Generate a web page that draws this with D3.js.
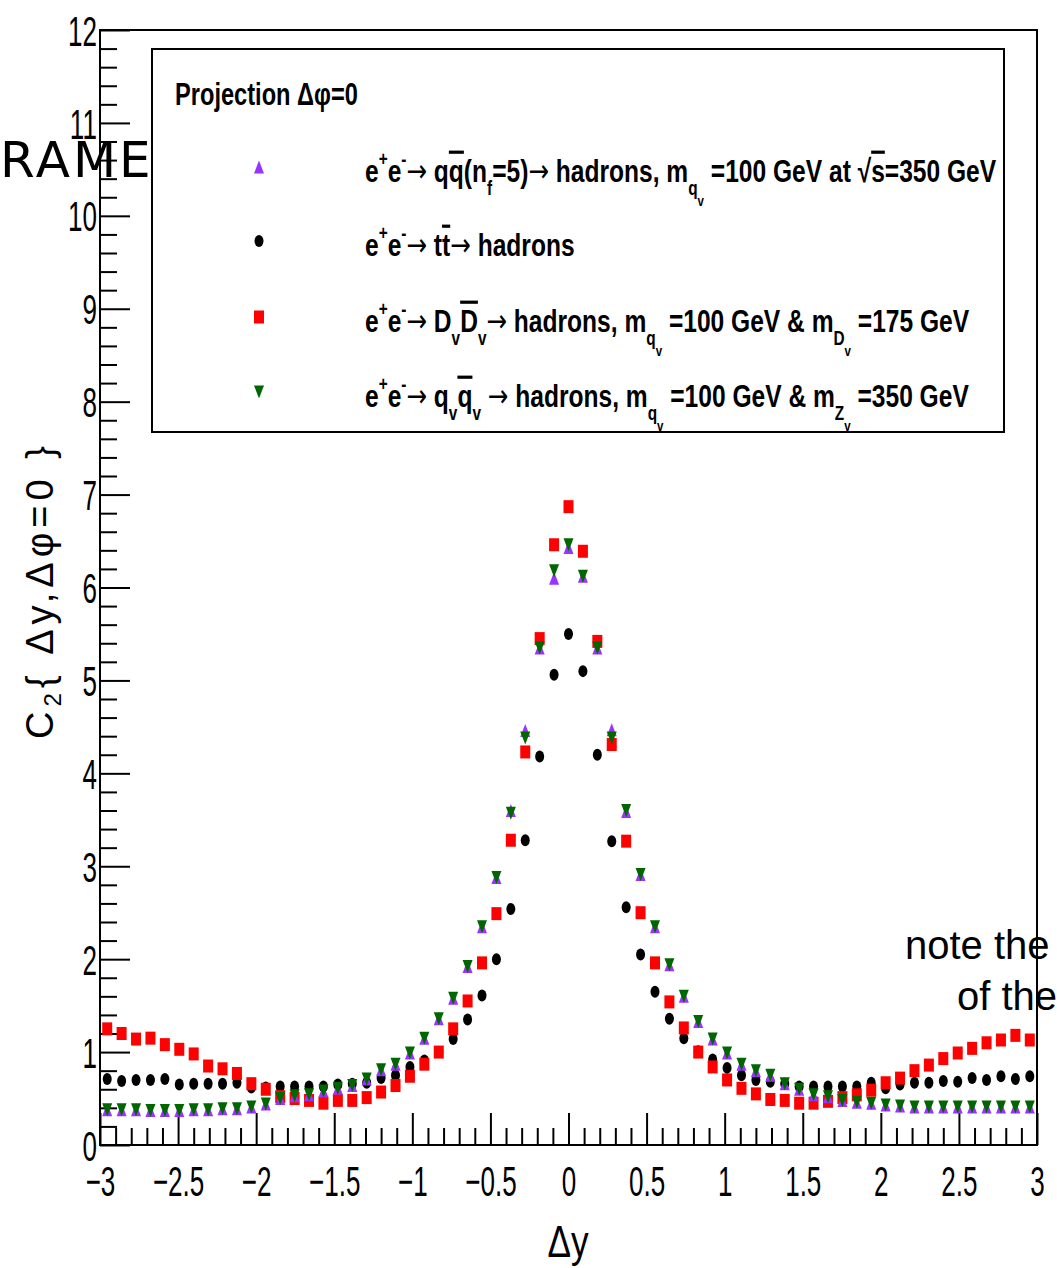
<!DOCTYPE html>
<html>
<head>
<meta charset="utf-8">
<script src="https://cdn.jsdelivr.net/npm/d3@7"></script>
<style>
  body { margin: 0; background: #fff; }
  svg { display: block; }
  .rootfont { font-family: "Liberation Sans", Arial, Helvetica, sans-serif; }
</style>
</head>
<body>
<svg id="chart" width="1057" height="1268"></svg>
<script>
// binning of the projection: 65 bins in [-3, 3]
const nBins = 65
const dyLimits = [-3, 3]
const c2Limits = [0, 12]

const xMajorTicks = [-3, -2.5, -2, -1.5, -1, -0.5, 0, 0.5, 1, 1.5, 2, 2.5, 3]
const yMajorTicks = [0, 1, 2, 3, 4, 5, 6, 7, 8, 9, 10, 11, 12]

// C2(dy, dphi=0) per bin
const qqbar = [
  0.38, 0.38, 0.38, 0.37, 0.37, 0.37, 0.38, 0.38, 0.39, 0.39,
  0.41, 0.44, 0.50, 0.53, 0.54, 0.58, 0.61, 0.64, 0.71, 0.81,
  0.87, 0.99, 1.15, 1.36, 1.58, 1.92, 2.35, 2.88, 3.60, 4.46,
  5.35, 6.10, 6.43, 6.12, 5.35, 4.47, 3.59, 2.91, 2.35, 1.94,
  1.60, 1.33, 1.14, 0.99, 0.87, 0.80, 0.75, 0.66, 0.60, 0.54,
  0.52, 0.48, 0.46, 0.45, 0.43, 0.42, 0.41, 0.41, 0.41, 0.41,
  0.41, 0.41, 0.41, 0.41, 0.41
]
const ttbar = [
  0.71, 0.69, 0.70, 0.70, 0.71, 0.65, 0.66, 0.66, 0.66, 0.67,
  0.62, 0.62, 0.63, 0.63, 0.63, 0.63, 0.65, 0.66, 0.67, 0.72,
  0.75, 0.84, 0.91, 1.00, 1.14, 1.35, 1.61, 2.00, 2.54, 3.28,
  4.18, 5.06, 5.50, 5.10, 4.20, 3.27, 2.56, 2.05, 1.65, 1.36,
  1.15, 1.01, 0.92, 0.83, 0.75, 0.70, 0.68, 0.66, 0.63, 0.63,
  0.63, 0.63, 0.63, 0.67, 0.61, 0.65, 0.67, 0.67, 0.69, 0.68,
  0.72, 0.70, 0.74, 0.71, 0.74
]
const dvdvbar = [
  1.25, 1.20, 1.14, 1.15, 1.08, 1.03, 0.98, 0.85, 0.82, 0.77,
  0.66, 0.60, 0.52, 0.50, 0.48, 0.45, 0.48, 0.48, 0.51, 0.57,
  0.64, 0.74, 0.87, 1.00, 1.25, 1.55, 1.96, 2.49, 3.28, 4.23,
  5.45, 6.46, 6.87, 6.39, 5.42, 4.31, 3.27, 2.50, 1.96, 1.54,
  1.26, 1.00, 0.84, 0.70, 0.61, 0.55, 0.49, 0.48, 0.45, 0.45,
  0.47, 0.51, 0.54, 0.59, 0.67, 0.72, 0.80, 0.86, 0.93, 0.99,
  1.04, 1.10, 1.13, 1.18, 1.13
]
const qvqvbar = [
  0.38, 0.38, 0.38, 0.37, 0.37, 0.37, 0.38, 0.38, 0.39, 0.39,
  0.41, 0.44, 0.50, 0.53, 0.54, 0.58, 0.61, 0.64, 0.71, 0.81,
  0.87, 0.99, 1.15, 1.36, 1.58, 1.92, 2.35, 2.88, 3.57, 4.38,
  5.35, 6.18, 6.46, 6.12, 5.35, 4.38, 3.60, 2.91, 2.35, 1.94,
  1.60, 1.33, 1.14, 0.99, 0.87, 0.80, 0.75, 0.66, 0.60, 0.54,
  0.52, 0.48, 0.46, 0.45, 0.43, 0.42, 0.41, 0.41, 0.41, 0.41,
  0.41, 0.41, 0.41, 0.41, 0.41
]

const binWidth = (dyLimits[1] - dyLimits[0]) / nBins
const dyCenters = d3.range(nBins).map(i => dyLimits[0] + (i + 0.5) * binWidth)

// legend rows: [text, level, overline]; level 1 = sup, -1 = sub, -2 = sub of sub
const legendHeader = "Projection \u0394\u03C6=0"
const legendRows = [
  { key: "qq", parts: [["e",0],["+",1],["e",0],["-",1],["\u2192 q",0],["q",0,1],["(n",0],["f",-1],["=5)\u2192 hadrons, m",0],["q",-1],["v",-2],[" =100 GeV at ",0],["\u221A",0],["s",0,1],["=350 GeV",0]] },
  { key: "tt", parts: [["e",0],["+",1],["e",0],["-",1],["\u2192 t",0],["t",0,1],["\u2192 hadrons",0]] },
  { key: "dd", parts: [["e",0],["+",1],["e",0],["-",1],["\u2192 D",0],["v",-1],["D",0,1],["v",-1],["\u2192 hadrons, m",0],["q",-1],["v",-2],[" =100 GeV & m",0],["D",-1],["v",-2],[" =175 GeV",0]] },
  { key: "qv", parts: [["e",0],["+",1],["e",0],["-",1],["\u2192 q",0],["v",-1],["q",0,1],["v",-1],[" \u2192 hadrons, m",0],["q",-1],["v",-2],[" =100 GeV & m",0],["Z",-1],["v",-2],[" =350 GeV",0]] }
]

const svg = d3.select("#chart")
const W = +svg.attr("width"), H = +svg.attr("height")
svg.append("rect").attr("width", W).attr("height", H).attr("fill", "#fff")

const x = d3.scaleLinear().domain(dyLimits).range([100, 1037])
const y = d3.scaleLinear().domain(c2Limits).range([1145, 30])

// triangle markers centred on their bounding box, like ROOT draws them
const triUp = { draw(ctx, size) { const w = Math.sqrt(size) / 2, h = w * 1.3
  ctx.moveTo(0, -h); ctx.lineTo(w, h); ctx.lineTo(-w, h); ctx.closePath() } }
const triDown = { draw(ctx, size) { const w = Math.sqrt(size) / 2, h = w * 1.3
  ctx.moveTo(0, h); ctx.lineTo(w, -h); ctx.lineTo(-w, -h); ctx.closePath() } }

const styles = {
  qq: { color: "#9933ff", shape: "up" },
  tt: { color: "#000000", shape: "circle" },
  dd: { color: "#ff0000", shape: "square" },
  qv: { color: "#006600", shape: "down" }
}

function marker(g, key, cx, cy) {
  const st = styles[key]
  if (st.shape === "circle") {
    g.append("ellipse").attr("cx", cx).attr("cy", cy).attr("rx", 4.5).attr("ry", 6).attr("fill", st.color)
  } else if (st.shape === "square") {
    g.append("rect").attr("x", cx - 5).attr("y", cy - 6.5).attr("width", 10).attr("height", 13).attr("fill", st.color)
  } else {
    g.append("path")
      .attr("d", d3.symbol().type(st.shape === "up" ? triUp : triDown).size(100)())
      .attr("transform", "translate(" + cx + "," + cy + ")")
      .attr("fill", st.color)
  }
}

// axes
const xAxis = svg.append("g").attr("class", "rootfont").attr("transform", "translate(0," + y(0) + ")")
xAxis.call(d3.axisBottom(x).tickValues(d3.range(-30, 31).filter(v => v % 5 !== 0).map(v => v / 10))
  .tickSize(-17).tickSizeOuter(0).tickFormat(""))
xAxis.append("g").call(d3.axisBottom(x).tickValues(xMajorTicks).tickSize(-32).tickSizeOuter(0).tickFormat(d3.format("")))
xAxis.selectAll(".domain").remove()
xAxis.selectAll(".tick line").attr("stroke", "#000").attr("stroke-width", 2)
xAxis.selectAll(".tick text").attr("y", 51).attr("dy", 0)
  .attr("font-size", 42).attr("fill", "#000").attr("transform", "scale(0.62,1)")

const yAxis = svg.append("g").attr("class", "rootfont").attr("transform", "translate(" + x(-3) + ",0)")
yAxis.call(d3.axisLeft(y).tickValues(d3.range(0, 61).filter(v => v % 5 !== 0).map(v => v / 5))
  .tickSize(-17).tickSizeOuter(0).tickFormat(""))
yAxis.append("g").call(d3.axisLeft(y).tickValues(yMajorTicks).tickSize(-30).tickSizeOuter(0).tickFormat(d3.format("d")))
yAxis.selectAll(".domain").remove()
yAxis.selectAll(".tick line").attr("stroke", "#000").attr("stroke-width", 2)
yAxis.selectAll(".tick text").attr("x", -5).attr("dy", "0.36em")
  .attr("font-size", 42).attr("fill", "#000").attr("transform", "scale(0.62,1)")

// frame
svg.append("rect")
  .attr("x", x(-3)).attr("y", y(12))
  .attr("width", x(3) - x(-3)).attr("height", y(0) - y(12))
  .attr("fill", "none").attr("stroke", "#000").attr("stroke-width", 2)

// axis titles
svg.append("text").attr("class", "rootfont")
  .attr("transform", "translate(568,1257) scale(0.8,1)")
  .attr("text-anchor", "middle").attr("font-size", 44).text("\u0394y")

const yTitle = svg.append("text").attr("class", "rootfont")
  .attr("transform", "translate(53,590) rotate(-90)")
  .attr("text-anchor", "middle")
  .attr("font-size", 38).attr("letter-spacing", 5)
yTitle.append("tspan").text("C")
yTitle.append("tspan").attr("font-size", 24).attr("dy", 8).text("2")
yTitle.append("tspan").attr("dy", -8).text("{ \u0394y,\u0394\u03C6=0 }")

// legend
const legend = svg.append("g")
legend.append("rect").attr("x", 152).attr("y", 49).attr("width", 852).attr("height", 383)
  .attr("fill", "#fff").attr("stroke", "#000").attr("stroke-width", 2)
const header = legend.append("text").attr("class", "rootfont")
  .attr("font-size", 32).attr("font-weight", "bold").text(legendHeader)
const hs = 183 / header.node().getBBox().width
header.attr("transform", "translate(175,105) scale(" + hs + ",1)")

const rowY = [182, 256, 332, 407]
let rowScale = null
legendRows.forEach((row, i) => {
  marker(legend, row.key, 259, rowY[i] - 15)
  const t = legend.append("text").attr("class", "rootfont")
    .attr("font-size", 32).attr("font-weight", "bold")
  let cur = 0
  row.parts.forEach(([txt, lvl, over]) => {
    const off = lvl === 1 ? -16 : lvl === -1 ? 13 : lvl === -2 ? 24 : 0
    const fs = lvl === 0 ? 32 : lvl === -2 ? 15 : 20
    // arrows come from a font with a long thin arrow, as in the ROOT latex
    txt.split(/(\u2192)/).filter(s => s !== "").forEach(piece => {
      const ts = t.append("tspan").attr("dy", off - cur).attr("font-size", fs).text(piece)
      cur = off
      if (piece === "\u2192") ts.attr("font-family", "DejaVu Sans, sans-serif").attr("font-weight", "normal")
      if (over) ts.style("text-decoration", "overline").style("text-decoration-thickness", "3px")
    })
  })
  // first row spans the legend width in the reference, the others follow its scale
  if (rowScale === null) rowScale = 632 / t.node().getBBox().width
  t.attr("transform", "translate(365," + rowY[i] + ") scale(" + rowScale + ",1)")
})

// data points, drawn in ROOT order
const plot = svg.append("g")
const seriesOrder = [["tt", ttbar], ["dd", dvdvbar], ["qq", qqbar], ["qv", qvqvbar]]
seriesOrder.forEach(([key, values]) => {
  const g = plot.append("g")
  values.forEach((v, i) => marker(g, key, x(dyCenters[i]), y(v)))
})

// overlaid annotations
svg.append("text").attr("x", 0).attr("y", 177)
  .attr("font-family", "DejaVu Sans, sans-serif").attr("font-size", 50).attr("letter-spacing", 3)
  .text("RAME")
svg.append("text").attr("class", "rootfont").attr("x", 905).attr("y", 959)
  .attr("font-size", 40).text("note the")
svg.append("text").attr("class", "rootfont").attr("x", 957).attr("y", 1010)
  .attr("font-size", 40).text("of the")
</script>
</body>
</html>
